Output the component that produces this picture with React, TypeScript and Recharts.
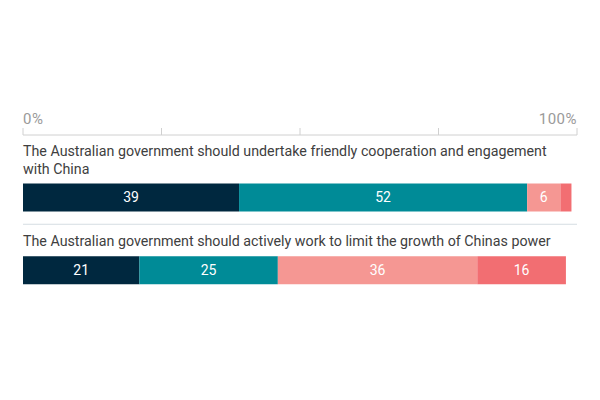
import React from "react";
import { BarChart, Bar, XAxis, YAxis, LabelList } from "recharts";

const categories = [
  "The Australian government should undertake friendly cooperation and engagement\nwith China",
  "The Australian government should actively work to limit the growth of Chinas power",
];
const seriesNames = ["Strongly agree", "Somewhat agree", "Somewhat disagree", "Strongly disagree"];
const stronglyAgree = [39, 21];
const somewhatAgree = [52, 25];
const somewhatDisagree = [6, 36];
const stronglyDisagree = [2, 16];
const xTicks = [0, 25, 50, 75, 100];
const tickLabels: Record<number, string> = { 0: "0%", 100: "100%" };

const colors = ["#00283F", "#008B97", "#F59793", "#F26E72"];
const keys = ["a", "b", "c", "d"];

const data = categories.map((c, i) => ({
  category: c,
  a: stronglyAgree[i],
  b: somewhatAgree[i],
  c: somewhatDisagree[i],
  d: stronglyDisagree[i],
}));

const FONT = "Roboto, 'Noto Sans', sans-serif";
const CHART_W = 584;
const CHART_H = 392;
const MARGIN = { top: 97, right: 15, bottom: 93, left: 15 };
const PLOT_W = CHART_W - MARGIN.left - MARGIN.right;

const AxisTick = (props: any) => {
  const { x, y, payload } = props;
  const label = tickLabels[payload.value] ?? "";
  if (!label) return null;
  const anchor = payload.value === 0 ? "start" : "end";
  return (
    <text
      x={x}
      y={y}
      dy={-2}
      textAnchor={anchor}
      fill="#9a9a9a"
      fontSize={15}
      letterSpacing={0.5}
      fontFamily={FONT}
    >
      {label}
    </text>
  );
};

const RowLabel = (props: any) => {
  const { x, y, value, index } = props;
  const lines = String(value).split("\n");
  const lh = 18;
  return (
    <g>
      {index > 0 && (
        <line x1={x} x2={x + PLOT_W} y1={y - 32} y2={y - 32} stroke="#D5DDE2" strokeWidth={1} />
      )}
      {lines.map((ln, i) => (
        <text
          key={i}
          x={x}
          y={y - 10 - (lines.length - 1 - i) * lh}
          fill="#404040"
          fontSize={14.25}
          fontFamily={FONT}
        >
          {ln}
        </text>
      ))}
    </g>
  );
};

export default function App() {
  return (
    <BarChart width={CHART_W} height={CHART_H} data={data} layout="vertical" margin={MARGIN}>
      <XAxis
        type="number"
        orientation="top"
        domain={[0, 100]}
        ticks={xTicks}
        tick={<AxisTick />}
        tickSize={7}
        height={30}
        axisLine={{ stroke: "#D0D0D0" }}
        tickLine={{ stroke: "#D0D0D0" }}
        interval={0}
      />
      <YAxis type="category" dataKey="category" hide padding={{ top: 26.5, bottom: 0 }} />
      {keys.map((k, i) => (
        <Bar
          key={k}
          dataKey={k}
          name={seriesNames[i]}
          stackId="s"
          fill={colors[i]}
          barSize={28}
          isAnimationActive={false}
        >
          <LabelList
            dataKey={k}
            position="center"
            fill="#ffffff"
            fontSize={14}
            fontFamily={FONT}
            formatter={(v: any) => (Number(v) >= 5 ? v : "")}
          />
          {i === 0 && <LabelList dataKey="category" content={<RowLabel />} />}
        </Bar>
      ))}
    </BarChart>
  );
}
